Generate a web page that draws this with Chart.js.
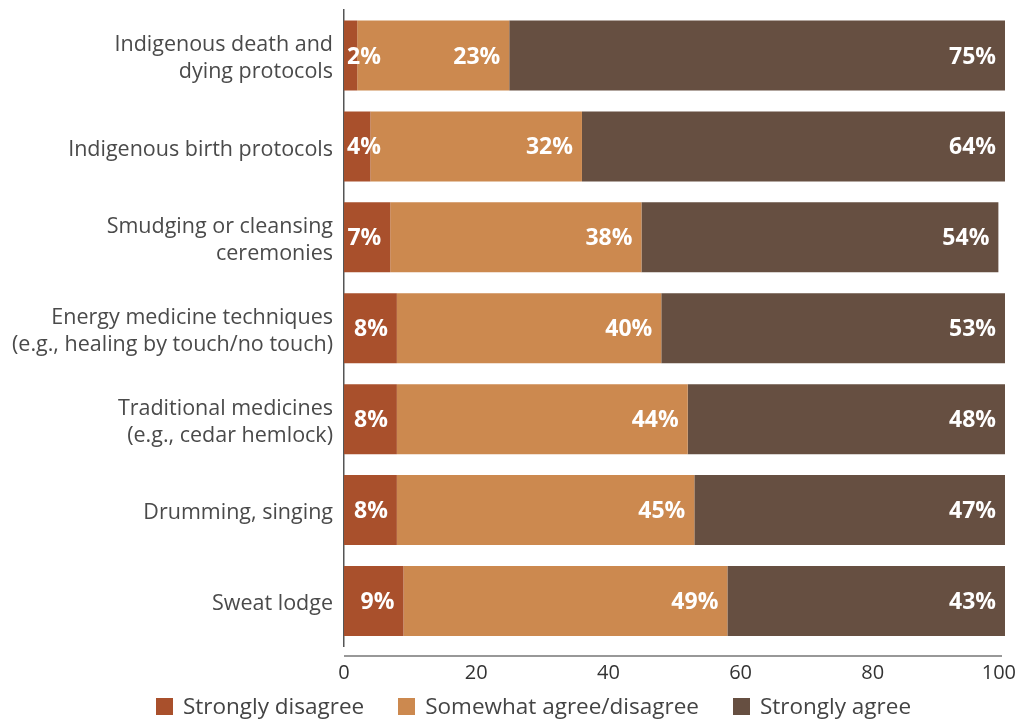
<!DOCTYPE html>
<html>
<head>
<meta charset="utf-8">
<script src="https://cdn.jsdelivr.net/npm/chart.js@4.4.1/dist/chart.umd.min.js"></script>
<style>
  html, body { margin: 0; padding: 0; background: #fff; }
  #wrap { position: relative; width: 1018px; height: 719px; }
  #legend {
    position: absolute; left: 0; top: 694px; width: 1018px; box-sizing: border-box;
    padding-left: 49px; display: flex; justify-content: center; align-items: center;
    font-family: 'Open Sans', sans-serif; font-size: 22.5px; color: #444; line-height: 24px;
  }
  .item { display: flex; align-items: center; margin: 0 17px; white-space: nowrap; }
  .box { width: 17px; height: 17px; margin-right: 10px; }
</style>
</head>
<body>
<div id="wrap">
  <canvas id="chart" width="1018" height="719"></canvas>
  <div id="legend"></div>
</div>
<script>
const categories = [
    ['Indigenous death and', 'dying protocols'],
    'Indigenous birth protocols',
    ['Smudging or cleansing', 'ceremonies'],
    ['Energy medicine techniques', '(e.g., healing by touch/no touch)'],
    ['Traditional medicines', '(e.g., cedar hemlock)'],
    'Drumming, singing',
    'Sweat lodge'
];
const seriesNames = ['Strongly disagree', 'Somewhat agree/disagree', 'Strongly agree'];
const stronglyDisagree = [2, 4, 7, 8, 8, 8, 9];
const somewhatAgree = [23, 32, 38, 40, 44, 45, 49];
const stronglyAgree = [75, 64, 54, 53, 48, 47, 43];
const xTicks = [0, 20, 40, 60, 80, 100];

const colors = ['#a9502c', '#cc894f', '#664f41'];

Chart.defaults.font.family = "'Open Sans', sans-serif";

// white percentage labels at the right end of each segment
const valueLabels = {
    id: 'valueLabels',
    afterDatasetsDraw(chart) {
        const ctx = chart.ctx;
        const right = chart.chartArea.right;
        ctx.save();
        ctx.font = "bold 23px 'Open Sans', sans-serif";
        ctx.fillStyle = '#ffffff';
        ctx.textBaseline = 'middle';
        ctx.textAlign = 'left';
        chart.data.datasets.forEach((ds, di) => {
            chart.getDatasetMeta(di).data.forEach((bar, i) => {
                const txt = ds.data[i] + '%';
                const w = ctx.measureText(txt).width;
                const end = Math.min(bar.x, right);
                let x = end - 9 - w;
                if (x < bar.base + 3) x = bar.base + 3;
                ctx.fillText(txt, x, bar.y + 1.5);
            });
        });
        ctx.restore();
    }
};

// x axis line sits a little below the plot; keep the last tick label inside the canvas
const xAxisLine = {
    id: 'xAxisLine',
    beforeDraw(chart) {
        const items = chart.scales.x.getLabelItems();
        const last = items[items.length - 1];
        if (last) {
            last.options.textAlign = 'right';
            last.options.translation[0] = chart.width - 2;
        }
    },
    afterDraw(chart) {
        const {ctx, chartArea} = chart;
        ctx.save();
        ctx.strokeStyle = '#333333';
        ctx.lineWidth = 1.2;
        ctx.beginPath();
        ctx.moveTo(chartArea.left, chartArea.bottom + 9.5);
        ctx.lineTo(chartArea.right - 3, chartArea.bottom + 9.5);
        ctx.stroke();
        ctx.restore();
    }
};

const ctx = document.getElementById('chart').getContext('2d');
const chart = new Chart(ctx, {
    type: 'bar',
    data: {
        labels: categories,
        datasets: [
            { label: seriesNames[0], data: stronglyDisagree, backgroundColor: colors[0] },
            { label: seriesNames[1], data: somewhatAgree, backgroundColor: colors[1] },
            { label: seriesNames[2], data: stronglyAgree, backgroundColor: colors[2] }
        ]
    },
    options: {
        indexAxis: 'y',
        responsive: false,
        devicePixelRatio: 1,
        animation: false,
        barPercentage: 0.77,
        categoryPercentage: 1,
        layout: { padding: { top: 10, left: 0, right: 13, bottom: 33.5 } },
        scales: {
            x: {
                stacked: true,
                min: 0,
                max: 100,
                afterBuildTicks: s => { s.ticks = xTicks.map(v => ({ value: v })); },
                afterFit: s => { s.height = 39; s.paddingLeft = 0; s.paddingRight = 0; },
                grid: { display: false, drawTicks: false },
                border: { display: false },
                ticks: {
                    padding: 15,
                    color: '#333333',
                    font: { size: 20 }
                }
            },
            y: {
                stacked: true,
                afterFit: s => { s.width = 344; s.paddingTop = 0; s.paddingBottom = 0; },
                grid: { display: false, drawTicks: false },
                border: { display: true, color: '#555555', width: 1.5 },
                ticks: {
                    padding: 11,
                    labelOffset: 3,
                    color: '#4a4a4a',
                    font: { size: 21.5, lineHeight: 1.26 }
                }
            }
        },
        plugins: {
            legend: { display: false },
            tooltip: { enabled: false }
        }
    },
    plugins: [valueLabels, xAxisLine]
});

// legend built from the chart's datasets
const legendEl = document.getElementById('legend');
chart.data.datasets.forEach(ds => {
    const item = document.createElement('div');
    item.className = 'item';
    item.innerHTML = `<span class="box" style="background:${ds.backgroundColor}"></span><span>${ds.label}</span>`;
    legendEl.appendChild(item);
});
</script>
</body>
</html>
